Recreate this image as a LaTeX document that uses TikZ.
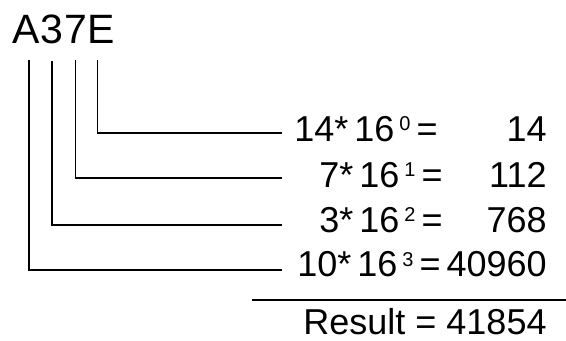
\documentclass[tikz,border=0pt]{standalone}
\usepackage{fontspec}
\setmainfont{Liberation Sans}
\usepackage{tikz}
\usetikzlibrary{positioning}
\newcommand{\pw}[1]{\hspace{2.5pt}\raisebox{5.5pt}{\fontsize{10}{10}\selectfont #1}\hspace{3pt}}
\newcommand{\gap}{\hspace{3pt}}

\begin{document}
\begin{tikzpicture}[x=0.5pt,y=-0.5pt,
		hexdigit/.style={inner sep=0pt,font=\fontsize{20.5}{24}\selectfont},
		term/.style={inner sep=0pt,anchor=base east,font=\fontsize{18}{20}\selectfont},
		bar/.style={line width=0.9pt}]
		\useasboundingbox (0,0) rectangle (566,341);
		% Hex number
		\node[hexdigit,anchor=base west] (dA) at (12,44) {A};
		\node[hexdigit,base right=0pt of dA] (d3) {3};
		\node[hexdigit,base right=0pt of d3] (d7) {7};
		\node[hexdigit,base right=0pt of d7] (dE) {E};
		% Place values
		\node[term] (t0) at (438,142) {14*\gap16\pw{0}=};
		\node[term] (v0) at (547,142) {14};
		\node[term] (t1) at (443,188) {7*\gap16\pw{1}=};
		\node[term] (v1) at (547,188) {112};
		\node[term] (t2) at (443,233) {3*\gap16\pw{2}=};
		\node[term] (v2) at (547,233) {768};
		\node[term] (t3) at (441,277) {10*\gap16\pw{3}=};
		\node[term] (v3) at (547,277) {40960};
		\node[term] (res) at (547,334) {Result = 41854};
		% Line ends
		\coordinate (e0) at (282,133);
		\coordinate (e1) at (282,178);
		\coordinate (e2) at (282,225);
		\coordinate (e3) at (282,270);
		\coordinate (r0) at (252,300);
		\coordinate (r1) at (566,300);
		% Draw bars
		\draw[bar] ([xshift=-2pt,yshift=-8pt]dE.south) |- (e0);
		\draw[bar] ([yshift=-8pt]d7.south) |- (e1);
		\draw[bar] ([yshift=-8pt]d3.south) |- (e2);
		\draw[bar] ([xshift=1.5pt,yshift=-8pt]dA.south) |- (e3);
		% Sum line
		\draw[bar] (r0) -- (r1);
	\end{tikzpicture}
\end{document}
